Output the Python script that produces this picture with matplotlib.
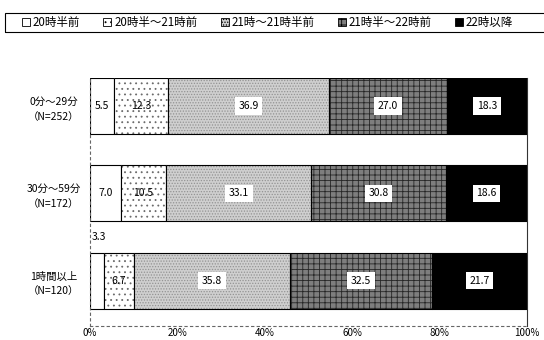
import matplotlib.pyplot as plt
from matplotlib.patches import Patch, Rectangle

plt.rcParams['font.family'] = ['Noto Sans CJK JP', 'DejaVu Sans']
plt.rcParams['hatch.linewidth'] = 0.6

groups = ["0分～29分\n（N=252）", "30分～59分\n（N=172）", "1時間以上\n（N=120）"]
series = ["20時半前", "20時半～21時前", "21時～21時半前", "21時半～22時前", "22時以降"]
v_before2030 = [5.5, 7.0, 3.3]
v_2030_21 = [12.3, 10.5, 6.7]
v_21_2130 = [36.9, 33.1, 35.8]
v_2130_22 = [27.0, 30.8, 32.5]
v_after22 = [18.3, 18.6, 21.7]
xticks = [0, 20, 40, 60, 80, 100]

values = [v_before2030, v_2030_21, v_21_2130, v_2130_22, v_after22]
faces = ["white", "white", "#cfcfcf", "#7e7e7e", "black"]
hatches = [None, "...", "......", "+++", None]
hatch_cols = ["black", "#6a6a6a", "#939393", "#262626", "black"]
boxed = [False, False, True, True, True]

fig = plt.figure(figsize=(5.44, 3.4), dpi=100)
ax = fig.add_axes([90 / 544, 14 / 340, 437 / 544, 248 / 340])

y = list(range(len(groups)))
left = [0.0] * len(groups)
for vals, fc, h, hc, bx in zip(values, faces, hatches, hatch_cols, boxed):
    ax.barh(y, vals, left=left, height=0.64, color=fc, hatch=h,
            edgecolor=hc, linewidth=0)
    ax.barh(y, vals, left=left, height=0.64, color="none",
            edgecolor="black", linewidth=0.8)
    for i, v in enumerate(vals):
        cx = left[i] + v / 2
        if v < 5:
            # too narrow to hold its label, so it sits above the bar
            ax.text(left[i] + 0.3, i - 0.44, f"{v:.1f}", ha="left", va="bottom",
                    fontsize=7.5)
        elif bx:
            ax.text(cx, i, f"{v:.1f}", ha="center", va="center", fontsize=7.5,
                    bbox=dict(boxstyle="square,pad=0.35", fc="white", ec="none"))
        else:
            ax.text(cx, i, f"{v:.1f}", ha="center", va="center", fontsize=7.5)
    left = [a + b for a, b in zip(left, vals)]

ax.set_xlim(0, 100)
ax.set_ylim(2.52, -0.32)
ax.set_xticks(xticks)
ax.set_xticklabels([f"{t}%" for t in xticks], fontsize=7)
ax.set_yticks(y)
ax.set_yticklabels(groups, fontsize=7.5, linespacing=1.6, ha="center")
ax.tick_params(axis="y", length=0, pad=26)
ax.tick_params(axis="x", length=0, pad=1.5)
for side in ["left", "bottom"]:
    ax.spines[side].set_linestyle((0, (2, 3)))
    ax.spines[side].set_color("#666666")
    ax.spines[side].set_linewidth(0.8)
ax.spines["top"].set_visible(False)
ax.spines["right"].set_color("#333333")
ax.spines["right"].set_linewidth(0.8)

# legend strip: frame runs off the right edge of the figure
fig.patches.append(Rectangle((5 / 544, 1 - 32 / 340), 560 / 544, 19 / 340,
                             transform=fig.transFigure, fill=False,
                             edgecolor="black", linewidth=0.8))
handles = [Patch(facecolor=fc, hatch=h, edgecolor="black", linewidth=0.6)
           for fc, h in zip(faces, hatches)]
fig.legend(handles, series, loc="center left", bbox_to_anchor=(22 / 544, 1 - 22.5 / 340),
           ncol=5, fontsize=8.3, frameon=False,
           handlelength=0.7, handleheight=0.7, handletextpad=0.25,
           columnspacing=2.0, borderpad=0, borderaxespad=0)

fig.savefig("out.png", dpi=100)
